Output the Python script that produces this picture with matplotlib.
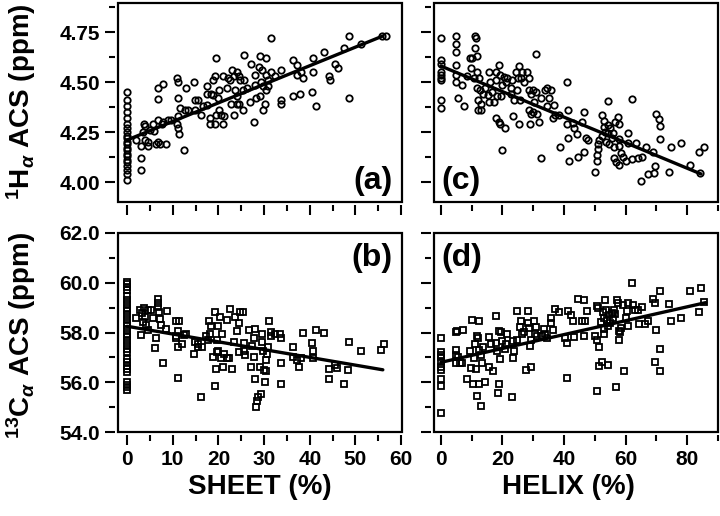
import matplotlib
matplotlib.use('Agg')
import matplotlib.pyplot as plt
from matplotlib.patches import Rectangle
from matplotlib.ticker import MultipleLocator, FormatStrFormatter

plt.rcParams['font.family'] = ['Liberation Sans', 'DejaVu Sans']
plt.rcParams['font.weight'] = 'bold'
plt.rcParams['mathtext.fontset'] = 'custom'
plt.rcParams['mathtext.rm'] = 'Liberation Sans:bold'
plt.rcParams['mathtext.it'] = 'Liberation Sans:italic'
plt.rcParams['mathtext.bf'] = 'Liberation Sans:bold'

# (a) Ha ACS vs sheet %
a_x = [0, 0, 0, 0, 0, 0, 0, 0, 0, 0, 0, 0, 0, 0, 0, 0, 0, 0, 0, 0, 0, 0,
       2.05, 3.0, 3.0, 3.0, 3.5, 3.7, 3.9, 4.0, 4.6, 4.6, 5.0, 5.7, 5.9, 6.4, 6.7, 6.8, 7.2,
       6.7, 6.7, 7.8, 7.6, 7.9, 8.6, 8.9, 9.7, 10.9, 11.2, 11.2, 11.1, 10.9, 11.2, 11.4,
       12.5, 11.6, 12.7, 13.0, 13.4, 14.7, 14.9, 15.5, 14.9, 16.2, 16.7, 17.4, 17.4, 17.6,
       18.4, 18.9, 19.5, 19.3, 18.9, 19.9, 20.1, 18.2, 18.2, 19.3, 19.4, 20.1, 20.6, 20.9,
       21.3, 20.9, 21.8, 22.2, 22.6, 22.9, 23.3, 24.0, 24.4, 24.8, 25.5, 25.7, 23.7, 24.0,
       23.5, 22.8, 24.0, 24.5, 25.3, 25.3, 26.2, 26.9, 27.2, 27.7, 27.9, 28.1, 28.2, 28.8,
       29.1, 29.1, 29.5, 29.7, 29.4, 29.8, 30.5, 31.4, 31.4, 30.5, 32.4, 33.8, 30.9, 30.9,
       30.4, 30.2, 33.8, 33.8, 36.4, 37.1, 37.3, 38.0, 38.5, 36.4, 37.9, 40.4, 41.4, 40.8,
       40.7, 43.2, 44.3, 44.5, 45.6, 46.1, 47.5, 48.7, 48.5, 51.3, 55.8, 56.6]
a_y = [4.45, 4.41, 4.38, 4.35, 4.32, 4.29, 4.27, 4.25, 4.23, 4.22, 4.20, 4.19, 4.17, 4.16,
       4.14, 4.13, 4.11, 4.10, 4.08, 4.06, 4.04, 4.01,
       4.21, 4.18, 4.12, 4.06, 4.25, 4.29, 4.28, 4.21, 4.20, 4.18, 4.26, 4.29, 4.255, 4.19, 4.31, 4.20, 4.19,
       4.47, 4.415, 4.49, 4.29, 4.30, 4.19, 4.31, 4.31, 4.52, 4.50, 4.42, 4.33, 4.29, 4.27, 4.24,
       4.16, 4.37, 4.36, 4.47, 4.36, 4.50, 4.41, 4.41, 4.36, 4.335, 4.38, 4.385, 4.48, 4.44,
       4.44, 4.435, 4.62, 4.53, 4.51, 4.42, 4.46, 4.32, 4.29, 4.29, 4.335, 4.36, 4.335, 4.29,
       4.33, 4.53, 4.47, 4.52, 4.51, 4.56, 4.53, 4.55, 4.53, 4.51, 4.635, 4.51, 4.46, 4.43,
       4.335, 4.39, 4.39, 4.39, 4.36, 4.46, 4.47, 4.40, 4.59, 4.30, 4.535, 4.485, 4.42, 4.575,
       4.63, 4.43, 4.56, 4.36, 4.50, 4.48, 4.62, 4.72, 4.55, 4.535, 4.53, 4.56, 4.51, 4.48,
       4.46, 4.39, 4.41, 4.39, 4.61, 4.585, 4.535, 4.55, 4.52, 4.43, 4.44, 4.45, 4.38, 4.62,
       4.55, 4.65, 4.53, 4.51, 4.59, 4.57, 4.67, 4.42, 4.73, 4.69, 4.73, 4.73]
a_fit_x = [0, 56]
a_fit_y = [4.21, 4.73]

# (c) Ha ACS vs helix %
c_x = [0, 0, 0, 0, 0, 0, 0, 0, 0,
       5.1, 5.1, 5.1, 5.1, 4.8, 4.8, 5.5, 6.9, 7.5, 8.6, 9.4, 10.2, 11.0, 11.3, 11.0, 11.8,
       9.9, 10.7, 11.8, 12.4, 11.8, 12.7, 12.1, 12.1, 12.9, 13.1, 13.8, 14.5, 15.3, 15.6,
       15.9, 15.6, 17.3, 16.7, 17.8, 17.8, 18.4, 18.9, 19.2, 19.9, 19.4, 17.8, 18.9, 19.2,
       20.7, 20.0, 20.5, 21.4, 21.1, 22.7, 22.9, 23.2, 23.8, 23.6, 24.3, 24.6, 25.1, 25.4,
       25.7, 26.2, 25.5, 26.5, 27.0, 27.9, 28.7, 28.7, 29.2, 29.8, 28.7, 29.2, 29.0, 29.9,
       30.8, 30.8, 30.3, 31.4, 31.9, 32.5, 32.5, 33.8, 34.6, 35.2, 34.5, 35.7, 36.3, 36.8,
       37.0, 38.8, 38.4, 40.9, 41.2, 40.9, 41.2, 41.7, 42.8, 43.3, 44.2, 44.4,
       46.4, 45.7, 46.6, 47.1, 47.7, 50.1, 50.7, 50.7, 51.1, 51.1, 51.5, 52.2, 52.2, 52.9,
       53.1, 53.3, 53.6, 54.2, 54.2, 54.4, 54.7, 55.0, 55.5, 55.8, 56.1, 56.1, 56.6, 56.9,
       57.4, 57.7, 57.7, 58.0, 58.0, 58.5, 59.1, 60.1, 60.7, 60.9, 62.0, 62.0, 63.4, 63.9,
       64.9, 65.4, 66.7, 67.2, 68.8, 69.2, 69.6, 69.9, 71.0, 71.3, 71.3, 74.0, 74.6, 77.9,
       80.8, 83.7, 85.4, 84.0]
c_y = [4.72, 4.61, 4.59, 4.55, 4.535, 4.52, 4.51, 4.41, 4.37,
       4.73, 4.69, 4.65, 4.585, 4.535, 4.50, 4.42, 4.485, 4.38, 4.53, 4.62, 4.62, 4.73, 4.72, 4.67, 4.63,
       4.57, 4.52, 4.55, 4.52, 4.47, 4.46, 4.41, 4.36, 4.36, 4.39, 4.44, 4.47, 4.435, 4.55,
       4.50, 4.40, 4.40, 4.45, 4.55, 4.51, 4.43, 4.585, 4.535, 4.485, 4.43, 4.32, 4.30, 4.29,
       4.27, 4.16, 4.527, 4.52, 4.50, 4.47, 4.44, 4.51, 4.41, 4.33, 4.55, 4.46, 4.52, 4.58,
       4.41, 4.52, 4.29, 4.55, 4.50, 4.55, 4.52, 4.46, 4.44, 4.46, 4.36, 4.34, 4.29, 4.35,
       4.45, 4.64, 4.40, 4.34, 4.30, 4.12, 4.42, 4.46, 4.47, 4.42, 4.38, 4.46, 4.32, 4.385,
       4.335, 4.177, 4.335, 4.50, 4.36, 4.29, 4.22, 4.107, 4.297, 4.27, 4.24, 4.127,
       4.35, 4.30, 4.15, 4.22, 4.21, 4.05, 4.107, 4.135, 4.163, 4.19, 4.21, 4.335, 4.23, 4.307,
       4.277, 4.25, 4.20, 4.407, 4.285, 4.243, 4.19, 4.268, 4.218, 4.247, 4.177, 4.118, 4.30, 4.10,
       4.327, 4.29, 4.085, 4.18, 4.213, 4.143, 4.127, 4.107, 4.247, 4.193, 4.413, 4.113, 4.197, 4.118,
       4.007, 4.123, 4.177, 4.04, 4.152, 4.047, 4.08, 4.34, 4.313, 4.28, 4.213, 4.05, 4.173, 4.197,
       4.085, 4.15, 4.177, 4.043]
c_fit_x = [0, 84.5]
c_fit_y = [4.58, 4.04]

# (b) Ca ACS vs sheet %
b_x = [0, 0, 0, 0, 0, 0, 0, 0, 0, 0, 0, 0, 0, 0, 0, 0, 0, 0, 0, 0, 0, 0, 0, 0, 0, 0, 0, 0, 0,
       2.05, 2.8, 3.0, 3.3, 3.5, 3.7, 4.0, 4.2, 4.5, 4.6, 5.3, 5.7, 6.1, 6.4, 6.7, 6.8, 6.8,
       7.0, 7.2, 7.4, 7.8, 8.8, 8.6, 10.8, 11.4, 11.1, 10.8, 11.2, 10.6, 11.2, 12.1, 12.5,
       13.0, 14.7, 14.9, 15.6, 15.5, 16.3, 16.2, 17.2, 17.7, 18.2, 17.9, 18.4, 19.3, 19.6,
       19.6, 18.9, 19.4, 19.3, 20.0, 20.4, 20.7, 20.0, 20.6, 21.1, 21.3, 21.8, 21.8, 22.6,
       22.4, 22.9, 23.3, 23.7, 24.0, 24.5, 24.8, 25.3, 24.4, 25.5, 25.9, 25.7, 26.7, 27.3,
       27.7, 27.7, 27.9, 27.2, 27.9, 28.2, 28.4, 28.6, 29.4, 29.2, 29.5, 29.5, 29.7,
       31.1, 31.4, 31.4, 32.4, 33.5, 33.6, 30.9, 30.6, 30.4, 30.0, 30.2, 30.4, 33.6, 33.6,
       36.4, 36.4, 37.1, 37.7, 38.0, 38.5, 40.4, 40.8, 40.6, 41.4, 43.2, 44.3, 44.3, 45.6,
       45.9, 47.5, 48.3, 48.7, 51.3, 55.6, 56.3]
b_y = [60.03, 59.94, 59.83, 59.70, 59.45, 59.3, 59.15, 59.0, 58.85, 58.7, 58.55, 58.4, 58.25,
       58.1, 57.95, 57.8, 57.65, 57.5, 57.35, 57.21, 56.93, 56.80, 56.66, 56.53, 56.40,
       55.99, 55.90, 55.81, 55.70,
       58.59, 58.89, 57.88, 58.78, 58.42, 59.0, 58.62, 58.32, 58.89, 58.11, 58.89, 58.59, 57.38,
       57.78, 59.36, 59.19, 59.02, 58.82, 58.55, 58.32, 56.76, 58.86, 58.15, 58.46, 58.48,
       58.08, 57.78, 57.41, 57.84, 56.17, 57.54, 57.88, 57.95, 57.14, 57.61, 57.54, 57.41,
       57.41, 55.39, 57.84, 57.68, 57.95, 58.48, 58.28, 58.82, 57.68, 57.21, 57.0, 56.53,
       55.86, 58.28, 58.62, 57.92, 57.25, 56.98, 56.63, 57.14, 58.51, 56.98, 58.96, 56.98,
       56.53, 57.61, 58.62, 58.08, 58.38, 58.84, 58.84, 57.21, 57.25, 57.11, 57.57, 58.11,
       57.47, 57.78, 57.03, 58.13, 56.63, 56.13, 55.01, 55.23, 55.41, 55.52, 56.60, 57.61,
       57.92, 57.27,
       58.46, 58.01, 57.84, 57.92, 57.95, 57.78, 57.43, 57.14, 56.90, 56.49, 55.99, 56.46,
       56.76, 55.93, 57.41, 57.03, 56.90, 56.63, 56.98, 57.97, 57.57, 57.27, 56.98, 58.11,
       57.97, 56.53, 56.13, 56.71, 56.57, 55.93, 56.49, 57.61, 57.27, 57.30, 57.52]
b_fit_x = [0, 56]
b_fit_y = [58.25, 56.5]

# (d) Ca ACS vs helix %
d_x = [0, 0, 0, 0, 0, 0, 0, 0, 0, 0,
       4.8, 5.3, 7.3, 4.8, 5.1, 4.8, 5.5, 6.4, 7.0, 8.6, 9.4, 9.9, 10.2, 12.4, 10.7, 11.0,
       10.5, 11.3, 11.6, 12.1, 12.4, 11.6, 13.1, 12.4, 12.9, 13.5, 13.8, 14.5, 15.6, 15.6,
       16.2, 17.0, 17.8, 17.8, 18.1, 18.6, 18.9, 18.9, 19.2, 19.4, 20.0, 20.7, 21.4, 21.1,
       23.2, 23.6, 23.8, 23.6, 24.6, 24.9, 25.7, 25.9, 26.5, 27.0, 27.6, 28.3, 28.3, 28.7,
       29.2, 29.0, 29.4, 30.3, 30.5, 30.8, 31.4, 32.7, 33.5, 33.8, 34.6, 35.9, 35.9, 36.3,
       37.0, 38.4, 40.3, 40.9, 41.2, 40.9, 42.2, 42.8, 43.1, 44.6,
       46.6, 47.4, 45.7, 46.8, 46.4, 50.7, 51.1, 50.1, 50.7, 51.5, 52.0, 51.5, 52.2, 50.7,
       53.3, 52.6, 53.1, 52.9, 53.1, 53.6, 53.9, 54.2, 54.2, 54.7, 55.0, 55.5, 55.8, 56.1,
       56.4, 56.9, 57.2, 57.4, 57.7, 57.7, 58.3, 58.5, 59.1, 59.4, 60.1, 60.5, 60.7, 60.9,
       62.0, 62.3, 63.1, 63.9, 64.5, 65.2, 66.3, 67.2, 68.8, 69.4, 69.9, 71.3, 71.3, 69.6,
       71.3, 74.0, 74.6, 77.9, 80.8, 84.4, 83.7, 85.4]
d_y = [57.78, 57.21, 57.11, 57.00, 56.80, 56.63, 56.49, 56.13, 55.86, 54.78,
       58.01, 58.05, 58.11, 57.30, 57.11, 56.76, 57.0, 56.76, 56.76, 56.13, 57.25, 56.57, 58.51,
       58.48, 56.98, 57.54, 55.93, 56.53, 57.84, 57.78, 55.93, 55.45, 55.05, 57.30, 57.11,
       56.76, 57.41, 55.99, 56.63, 57.81, 57.54, 56.46, 58.65, 57.57, 57.25, 55.55, 55.93,
       58.08, 56.94, 58.01, 57.65, 57.34, 57.92, 57.54, 55.39, 56.98, 57.25, 57.65, 58.86,
       57.70, 58.24, 58.46, 57.92, 58.01, 56.49, 58.86, 58.38, 58.19, 56.63, 57.47, 57.68,
       58.46, 57.92, 58.22, 57.84, 57.84, 58.15, 57.95, 57.78, 58.38, 58.59, 58.11, 58.96,
       58.82, 57.78, 57.57, 58.86, 56.17, 58.69, 58.48, 57.81, 59.36,
       59.32, 58.86, 58.48, 58.46, 57.84, 59.05, 58.99, 57.84, 57.70, 57.41, 58.42, 56.67,
       56.80, 55.63, 59.32, 58.82, 58.59, 58.15, 57.92, 58.89, 58.51, 58.28, 56.71, 58.69,
       58.38, 58.78, 58.59, 58.92, 58.75, 55.79, 59.29, 59.19, 58.08, 57.68, 58.01, 58.19,
       59.09, 56.44, 58.59, 58.86, 58.28, 59.19, 59.99, 59.09, 58.89, 58.92, 58.35, 59.02,
       58.35, 58.48, 59.36, 59.19, 58.11, 59.67, 57.33, 56.80, 56.44, 59.13, 58.48, 58.59,
       59.67, 59.80, 58.82, 59.23]
d_fit_x = [0, 86]
d_fit_y = [56.8, 59.2]

W, H = 720, 516
fig = plt.figure(figsize=(W / 100, H / 100), dpi=100)

def px_axes(left, top, right, bottom):
    return fig.add_axes([left / W, 1 - bottom / H, (right - left) / W, (bottom - top) / H])

ax_a = px_axes(118, 3, 402, 202)
ax_c = px_axes(434, 3, 718, 202)
ax_b = px_axes(118, 233, 402, 432)
ax_d = px_axes(434, 233, 718, 432)

panels = [
    (ax_a, a_x, a_y, a_fit_x, a_fit_y, 'o'),
    (ax_c, c_x, c_y, c_fit_x, c_fit_y, 'o'),
    (ax_b, b_x, b_y, b_fit_x, b_fit_y, 's'),
    (ax_d, d_x, d_y, d_fit_x, d_fit_y, 's'),
]
for ax, x, y, fx, fy, m in panels:
    ax.plot(x, y, m, ms=4.6 if m == 'o' else 4.2, mfc='none', mec='black', mew=1.3,
            linestyle='none', clip_on=False)
    ax.plot(fx, fy, color='black', lw=2.4, solid_capstyle='round')
    for s in ax.spines.values():
        s.set_visible(False)
    ax.spines['left'].set_position(('outward', 2))
    ax.spines['bottom'].set_position(('outward', 2))
    ax.add_patch(Rectangle((0, 0), 1, 1, transform=ax.transAxes, fill=False,
                           lw=1.6, ec='black', clip_on=False, zorder=5))
    ax.tick_params(which='major', direction='out', length=7, width=1.5, labelsize=15, pad=4)
    ax.tick_params(which='minor', direction='out', length=4, width=1.5)

# sheet axes
for ax in (ax_a, ax_b):
    ax.set_xlim(-2, 60.2)
    ax.xaxis.set_major_locator(MultipleLocator(10))
    ax.xaxis.set_minor_locator(MultipleLocator(5))
# helix axes
for ax in (ax_c, ax_d):
    ax.set_xlim(-2.2, 90)
    ax.xaxis.set_major_locator(MultipleLocator(20))
    ax.xaxis.set_minor_locator(MultipleLocator(10))
    ax.tick_params(labelleft=False)
for ax in (ax_a, ax_c):
    ax.set_ylim(3.9, 4.895)
    ax.yaxis.set_major_locator(MultipleLocator(0.25))
    ax.yaxis.set_minor_locator(MultipleLocator(0.125))
    ax.yaxis.set_major_formatter(FormatStrFormatter('%.2f'))
    ax.tick_params(labelbottom=False)
for ax in (ax_b, ax_d):
    ax.set_ylim(54, 62)
    ax.yaxis.set_major_locator(MultipleLocator(2))
    ax.yaxis.set_minor_locator(MultipleLocator(1))
    ax.yaxis.set_major_formatter(FormatStrFormatter('%.1f'))

ax_a.text(0.968, 0.03, '(a)', transform=ax_a.transAxes, ha='right', va='bottom', fontsize=23, fontweight='bold')
ax_c.text(0.025, 0.03, '(c)', transform=ax_c.transAxes, ha='left', va='bottom', fontsize=23, fontweight='bold')
ax_b.text(0.968, 0.95, '(b)', transform=ax_b.transAxes, ha='right', va='top', fontsize=23, fontweight='bold')
ax_d.text(0.025, 0.95, '(d)', transform=ax_d.transAxes, ha='left', va='top', fontsize=23, fontweight='bold')

fig.text(21 / W, 1 - 102 / H, r'$^{1}$H$_{\alpha}$ ACS (ppm)', rotation=90, ha='center', va='center',
         fontsize=20, fontweight='bold')
fig.text(21 / W, 1 - 335 / H, r'$^{13}$C$_{\alpha}$ ACS (ppm)', rotation=90, ha='center', va='center',
         fontsize=20, fontweight='bold')
fig.text(260 / W, 1 - 487 / H, 'SHEET (%)', ha='center', va='center', fontsize=20, fontweight='bold')
fig.text(568 / W, 1 - 487 / H, 'HELIX (%)', ha='center', va='center', fontsize=20, fontweight='bold')

fig.savefig('out.png', dpi=100)
